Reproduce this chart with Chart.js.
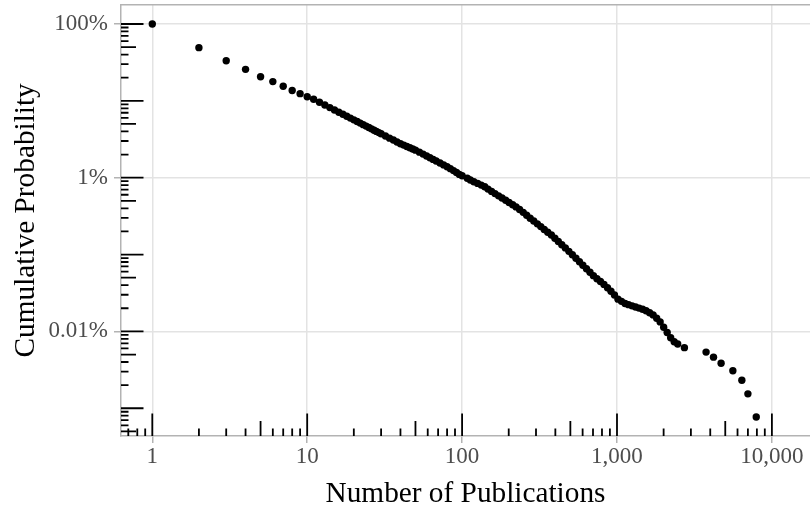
<!DOCTYPE html>
<html><head><meta charset="utf-8">
<script src="https://cdn.jsdelivr.net/npm/chart.js@4"></script>
<style>html,body{margin:0;padding:0;background:#fff}canvas{display:block}</style>
</head><body>
<canvas id="c" width="810" height="510"></canvas>
<script>
// Number of publications (x) and cumulative probability P(X >= n) (y)
const publications = [1,2,3,4,5,6,7,8,9,10,11,12,13,14,15,16,17,18,19,20,21,22,23,24,25,26,27,28,29,30,32,34,36,38,40,42,44,46,48,50,53,56,59,62,65,68,72,76,80,84,88,92,96,100,108,113,119,126,133,140,147,155,163,172,181,191,201,212,223,235,248,261,275,290,306,322,339,357,377,397,418,440,464,489,515,543,572,602,635,669,704,742,782,824,868,914,963,1015,1069,1127,1187,1251,1318,1388,1463,1541,1624,1711,1803,1899,2001,2108,2221,2340,2465,2724,3759,4198,4699,5598,6399,7000,7925];
const cumulativeProbability = [1,0.492,0.333,0.257,0.206,0.178,0.155,0.136,0.124,0.113,0.105,0.0957,0.0882,0.0817,0.0760,0.0712,0.0669,0.0630,0.0596,0.0566,0.0538,0.0513,0.0490,0.0469,0.0449,0.0432,0.0415,0.0400,0.0386,0.0373,0.0349,0.0327,0.0309,0.0292,0.0277,0.02655,0.02547,0.02455,0.02366,0.02281,0.02148,0.02028,0.01919,0.01820,0.01730,0.01648,0.01552,0.01466,0.01387,0.01312,0.01236,0.01169,0.01104,0.0106,0.00982,0.00934,0.00887,0.00843,0.00801,0.00761,0.00711,0.00663,0.00621,0.00580,0.00543,0.00508,0.00476,0.00445,0.00417,0.00386,0.00354,0.00324,0.00297,0.00273,0.00251,0.00231,0.00212,0.00195,0.00180,0.00163,0.00148,0.00134,0.00122,0.00110,0.000993,0.000894,0.000807,0.000727,0.000654,0.000589,0.000531,0.000484,0.000445,0.000409,0.000370,0.000333,0.000297,0.000263,0.000246,0.000231,0.000223,0.000215,0.000208,0.000201,0.000194,0.000186,0.000175,0.000164,0.000148,0.000133,0.000113,0.0000968,0.0000825,0.0000734,0.0000686,0.0000615,0.0000538,0.0000462,0.0000385,0.0000308,0.0000231,0.0000154,0.00000769];

const xTickValues = [1, 10, 100, 1000, 10000];
const xTickLabels = ['1', '10', '100', '1,000', '10,000'];
const yTickValues = [0.0001, 0.01, 1];
const yTickLabels = ['0.01%', '1%', '100%'];
const xTitle = 'Number of Publications';
const yTitle = 'Cumulative Probability';

const FONT = "'Liberation Serif', 'Times New Roman', serif";
const points = publications.map((n, i) => ({x: n, y: cumulativeProbability[i]}));

const logTicksPlugin = {
  id: 'logTicks',
  afterDatasetsDraw(chart) {
    const ctx = chart.ctx, a = chart.chartArea;
    const xs = chart.scales.x, ys = chart.scales.y;
    const lens = m => m === 1 ? 22.5 : (m === 5 ? 15 : 7.5);
    ctx.save();
    ctx.strokeStyle = '#000';
    ctx.lineWidth = 1.8;
    ctx.lineCap = 'butt';
    ctx.beginPath();
    for (let e = Math.floor(Math.log10(xs.min)); e <= Math.ceil(Math.log10(xs.max)); e++) {
      for (let m = 1; m <= 9; m++) {
        const v = m * Math.pow(10, e);
        if (v < xs.min || v > xs.max) continue;
        const px = xs.getPixelForValue(v);
        ctx.moveTo(px, a.bottom);
        ctx.lineTo(px, a.bottom - lens(m));
      }
    }
    for (let e = Math.floor(Math.log10(ys.min)); e <= Math.ceil(Math.log10(ys.max)); e++) {
      for (let m = 1; m <= 9; m++) {
        const v = m * Math.pow(10, e);
        if (v < ys.min || v > ys.max) continue;
        const py = ys.getPixelForValue(v);
        ctx.moveTo(a.left, py);
        ctx.lineTo(a.left + lens(m), py);
      }
    }
    ctx.stroke();
    // top panel border
    ctx.strokeStyle = '#b3b3b3';
    ctx.lineWidth = 1.5;
    ctx.beginPath();
    ctx.moveTo(a.left, a.top);
    ctx.lineTo(a.right, a.top);
    ctx.stroke();
    ctx.restore();
  }
};

new Chart(document.getElementById('c'), {
  type: 'scatter',
  data: {
    datasets: [{
      data: points,
      pointRadius: 3.7,
      pointHoverRadius: 3.7,
      pointBackgroundColor: '#000',
      pointBorderWidth: 0,
      borderColor: '#000'
    }]
  },
  options: {
    responsive: false,
    animation: false,
    devicePixelRatio: 1,
    layout: {autoPadding: false, padding: {top: 4.7, right: 0, bottom: 0, left: 0}},
    plugins: {legend: {display: false}, tooltip: {enabled: false}},
    scales: {
      x: {
        type: 'logarithmic',
        bounds: 'data',
        min: 0.6280,
        max: 17620,
        afterFit(s) { s.height = 74; s.paddingLeft = 0; s.paddingRight = 0; },
        afterBuildTicks(s) { s.ticks = xTickValues.map(v => ({value: v})); },
        ticks: {
          autoSkip: false, maxRotation: 0, padding: 0,
          color: '#4d4d4d',
          font: {family: FONT, size: 23},
          callback: (v) => { const i = xTickValues.indexOf(v); return i >= 0 ? xTickLabels[i] : ''; }
        },
        grid: {color: '#e3e3e3', lineWidth: 1.5, tickColor: '#b3b3b3', tickLength: 7, drawTicks: true},
        border: {display: true, color: '#b3b3b3', width: 1.5},
        title: {display: true, text: xTitle, color: '#000', font: {family: FONT, size: 29.3}, padding: {top: 0, bottom: -2}}
      },
      y: {
        type: 'logarithmic',
        bounds: 'data',
        min: 4.355e-6,
        max: 1.782,
        afterFit(s) { s.width = 121; s.paddingTop = 0; s.paddingBottom = 0; },
        afterBuildTicks(s) { s.ticks = yTickValues.map(v => ({value: v})); },
        ticks: {
          autoSkip: false, padding: 6,
          color: '#4d4d4d',
          font: {family: FONT, size: 23},
          callback: (v) => { const i = yTickValues.indexOf(v); return i >= 0 ? yTickLabels[i] : ''; }
        },
        grid: {color: '#e3e3e3', lineWidth: 1.5, tickColor: '#b3b3b3', tickLength: 7, drawTicks: true},
        border: {display: true, color: '#b3b3b3', width: 1.5},
        title: {display: true, text: yTitle, color: '#000', font: {family: FONT, size: 29.3}, padding: {top: 9, bottom: 0}}
      }
    }
  },
  plugins: [logTicksPlugin]
});
</script>
</body></html>
